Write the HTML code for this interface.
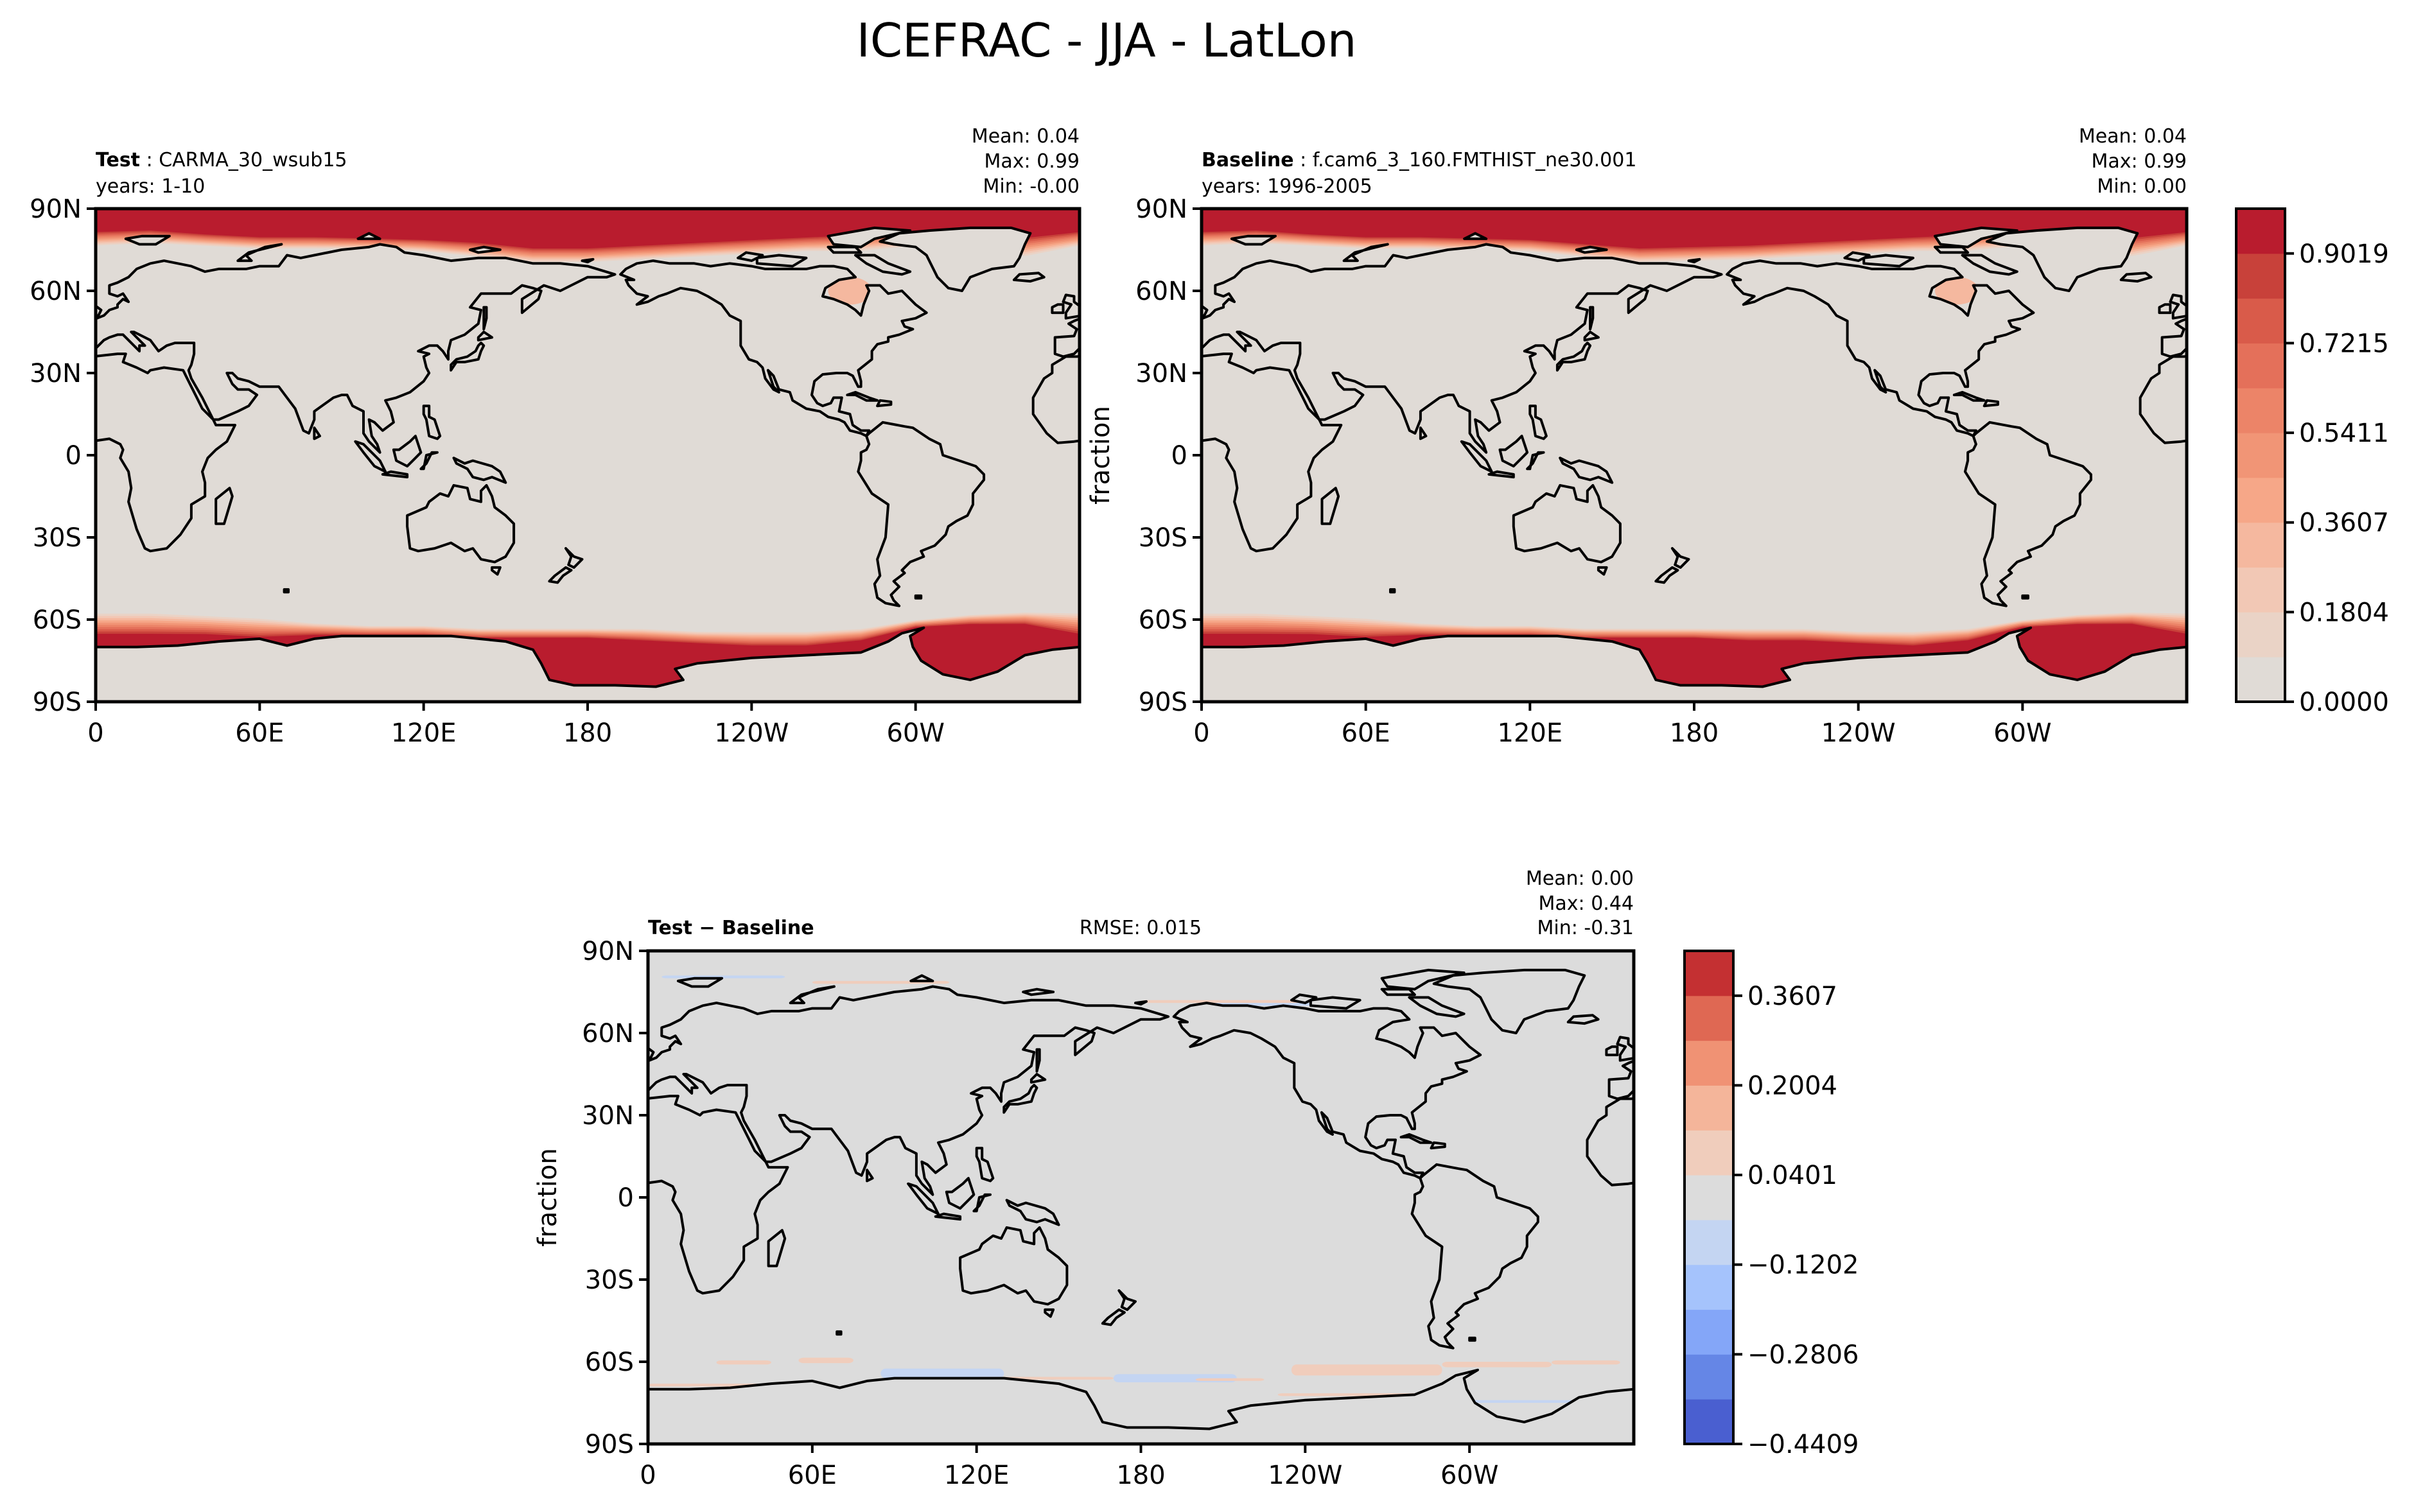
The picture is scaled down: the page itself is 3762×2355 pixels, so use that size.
<!DOCTYPE html>
<html><head><meta charset="utf-8">
<style>
html,body{margin:0;padding:0;background:#fff;}
svg{display:block;}
text{font-family:"DejaVu Sans","Liberation Sans",sans-serif;fill:#000;}
</style></head>
<body>
<svg id="fig" xmlns="http://www.w3.org/2000/svg" width="3762" height="2355" viewBox="0 0 3762 2355">
<rect x="0" y="0" width="3762" height="2355" fill="#fff"/>
<text x="1723" y="88" font-size="72" text-anchor="middle">ICEFRAC - JJA - LatLon</text>
</svg>
<script>
// ---------------- data ----------------
const iceLons = [0,20,40,60,80,100,120,140,160,180,200,220,240,260,280,300,320,340,360];
const testNorthFull = [82,82.5,81,80,80,79.5,79,78,76,76,77,78,79,80,81,82,83,80,82];
const testNorthEdge = [76,77,76,75,75,75,74,72,70,70,71,72,73,74,74,76,78,72,76];
const baseNorthFull = [82,82.5,81,80,80,79.5,79,77.5,76,76.5,77,78,79,80,81,82,83,80,82];
const baseNorthEdge = [76,77,76,75,75,74.5,74,72,70,70.5,71,72,73,74,74,76,78,72,76];
const testSouthFull = [-66,-66,-66,-67,-66,-66,-66,-67,-67,-67,-68,-69,-70,-70,-68,-63,-62,-62,-66];
const testSouthEdge = [-57,-57,-58,-59,-61,-62,-62,-63,-63,-63,-63,-64,-64,-64,-63,-60,-58,-57,-57];
const baseSouthFull = [-66,-66,-66,-67,-66,-66,-66,-67,-67,-67,-68,-68,-69,-70,-68,-63,-62,-62,-66];
const baseSouthEdge = [-57,-57,-58,-59,-61,-62,-62,-63,-63,-63,-63,-63,-64,-64,-63,-60,-58,-57,-57];
const hudsonTest = 0.35;
const hudsonBase = 0.30;
const iceColors = ['#e0dbd6','#ead3c6','#f2c8b5','#f5b89f','#f6a788','#f19576','#ec8468','#e4705a','#d95b4a','#c8413a','#b91c2e'];
const iceTicks = ['0.0000','0.1804','0.3607','0.5411','0.7215','0.9019'];
const iceTickVals = [0,0.1804,0.3607,0.5411,0.7215,0.9019];
const iceMax = 0.992;
const diffColors = ['#4a5fd0','#6586e6','#84a6f8','#a5c3fc','#c4d5f2','#dcdcdc','#f0cdbc','#f4b59a','#f09274','#df6853','#c43032'];
const diffTicks = ['\u22120.4409','\u22120.2806','\u22120.1202','0.0401','0.2004','0.3607'];
const diffTickVals = [-0.4409,-0.2806,-0.1202,0.0401,0.2004,0.3607];
const diffMin = -0.4409, diffMax = 0.4409;
// difference patches: lon range, lat range, value
const diffLon0 = [25,55,85,170,200,235,290,330,0,120,230,300,5,60,180,200];
const diffLon1 = [45,75,130,215,225,290,330,355,60,170,300,355,50,110,240,250];
const diffLat0 = [-59.5,-58.5,-62.5,-64.5,-66,-61,-60,-59.5,-68,-65.5,-71.5,-74,81,79,72,71];
const diffLat1 = [-61,-60.5,-66,-67.5,-67,-65,-62,-61,-69,-66.5,-72.5,-75,80,78,71,70];
const diffVal = [0.08,0.1,-0.08,-0.09,0.08,0.09,0.1,0.09,0.1,0.1,0.09,-0.09,-0.08,0.08,0.09,-0.08];
const latTicks = [90,60,30,0,-30,-60,-90];
const latLabels = ['90N','60N','30N','0','30S','60S','90S'];
const lonTicks = [0,60,120,180,240,300];
const lonLabels = ['0','60E','120E','180','120W','60W'];

// ---------------- coastlines (lon,lat) ----------------
const LAND = [
 [[-17,21],[-17,15],[-12,8],[-8,4.5],[-2,5],[5,6],[9,4],[10,2],[9,-1],[12,-6],[13,-12],[12,-17],[15,-27],[18,-34],[20,-35],[26,-34],[31,-29],[33,-26],[35,-23],[35,-18],[40,-15],[40,-10],[39,-6],[41,-1],[44,2],[48,5],[51,11],[44,11],[43,13],[39,17],[37,21],[35,25],[33,29],[32,31],[25,32],[20,31],[19,30],[15,32],[10,34],[11,37],[8,37],[-1,36],[-5,36],[-10,33],[-10,30],[-13,28]],
 [[44,-25],[47,-25],[50,-15],[49,-12],[44,-16]],
 [[-9,43],[-9,37],[-6,36],[-2,37],[0,39],[3,42],[5,43],[8,44],[10,44],[12,42],[16,38],[16,40],[18,40],[13,45],[14,45],[20,42],[23,38],[26,40],[29,41],[36,41],[36,37],[35,33],[34,31],[35,28],[39,21],[43,13],[45,13],[52,16],[56,18],[59,22],[56,24],[52,24],[50,26],[48,30],[50,30],[52,28],[56,27],[60,25],[67,25],[70,21],[73,17],[76,9],[78,8],[80,13],[80,16],[87,21],[90,22],[92,22],[94,18],[98,16],[98,8],[100,5],[104,1],[103,4],[101,7],[100,13],[102,12],[105,9],[109,12],[108,16],[106,20],[110,21],[115,23],[120,27],[122,30],[121,32],[120,36],[122,37],[118,38],[122,40],[125,40],[127,38],[129,35],[129,38],[130,42],[135,44],[140,48],[141,53],[137,54],[141,59],[152,59],[156,62],[160,61],[163,60],[162,57],[156,52],[156,57],[164,62],[170,60],[180,65],[187,65],[190,66],[180,69],[170,70],[160,70],[150,72],[140,72],[130,71],[120,73],[113,74],[110,76],[104,77],[100,76],[90,75],[80,73],[75,72],[70,73],[67,69],[60,69],[55,68],[45,68],[40,67],[35,69],[30,70],[25,71],[20,70],[15,68],[12,65],[8,63],[5,62],[5,59],[8,58],[10,59],[12,56],[10,57],[8,55],[8,54],[5,53],[3,51],[-2,49],[-4,48],[-1,46],[-2,43.5]],
 [[-5,50],[1,51],[2,53],[-2,56],[-2,58],[-5,58.5],[-6,56],[-3,55],[-5,52]],
 [[-10,52],[-6,52],[-6,55],[-8,55],[-10,54]],
 [[130,31],[132,34],[135,34],[140,35],[141,38],[142,40],[141,41],[140,40],[139,38],[136,36],[132,35],[130,33]],
 [[140,42],[145,43],[142,45],[140,43]],
 [[142,46],[143,50],[143,54],[142,54],[142,48]],
 [[120,18],[122,18],[122,14],[124,13],[126,7],[125,6],[122,7],[121,13],[120,15]],
 [[109,2],[110,-2],[114,-4],[117,-1],[119,1],[117,7],[115,5],[111,2]],
 [[95,5],[98,4],[104,-2],[106,-6],[102,-4],[98,1]],
 [[105,-7],[114,-8],[114,-7],[108,-6]],
 [[119,-5],[121,-3],[123,1],[125,1],[121,0],[120,-5]],
 [[131,-1],[135,-3],[138,-2],[145,-4],[148,-6],[150,-10],[145,-8],[142,-9],[138,-8],[136,-5],[132,-3]],
 [[114,-22],[114,-26],[115,-34],[118,-35],[124,-34],[130,-32],[135,-35],[138,-34],[141,-38],[146,-39],[150,-37],[153,-32],[153,-25],[150,-22],[146,-19],[145,-15],[143,-11],[141,-13],[141,-17],[137,-16],[136,-12],[131,-11],[129,-15],[126,-14],[122,-17],[121,-19]],
 [[145,-41],[148,-41],[147,-43.5],[145,-42]],
 [[172,-34],[175,-37],[178,-38],[175,-41],[173,-40],[174,-37]],
 [[172,-41],[174,-42],[171,-44],[169,-46.5],[166,-46],[168,-44]],
 [[80,6],[82,7],[80,10]],
 [[-166,68],[-162,70],[-156,71],[-150,70],[-141,70],[-135,69],[-128,70],[-120,69],[-115,68],[-108,68],[-100,68],[-95,69],[-90,69],[-85,68],[-82,65],[-88,64],[-93,61],[-94,58],[-90,57],[-85,55],[-82,53],[-80,51],[-79,55],[-77,60],[-78,62],[-73,62],[-70,59],[-65,60],[-62,57],[-60,55],[-56,52],[-60,50],[-65,49],[-64,47],[-61,46],[-66,44],[-70,43],[-70,41.5],[-74,40.5],[-76,38],[-76,35],[-81,31],[-80,27],[-80,25],[-81,25],[-83,29],[-85,30],[-89,30],[-94,29.5],[-97,27],[-98,22],[-96,19],[-94,18],[-91,19],[-90,21],[-87,21],[-88,16],[-84,15],[-83,11],[-80,9],[-77,9],[-78,7],[-80,8],[-84,9],[-86,12],[-88,13],[-92,14],[-95,16],[-100,17],[-105,20],[-106,23],[-110,24],[-112,29],[-114,31],[-112,25],[-110,23],[-112,24],[-115,28],[-116,32],[-118,34],[-121,35],[-124,40],[-124,46],[-124,49],[-128,51],[-131,55],[-136,58],[-140,60],[-146,61],[-151,59],[-154,58],[-158,56],[-162,55],[-158,58],[-162,59],[-165,62],[-166,64],[-163,64],[-168,66]],
 [[-73,78],[-66,81],[-55,82],[-40,83],[-25,83],[-18,81],[-20,77],[-22,72],[-24,69],[-32,68],[-40,65],[-43,60],[-48,61],[-52,65],[-54,69],[-56,73],[-60,76],[-68,77]],
 [[-62,67],[-65,66],[-72,67],[-78,70],[-82,73],[-75,73],[-70,70]],
 [[-118,70],[-105,69],[-100,72],[-110,73],[-118,72]],
 [[-80,76],[-90,77],[-92,80],[-75,83],[-62,82],[-75,79]],
 [[-125,72],[-120,71],[-116,73],[-122,74]],
 [[-80,74],[-90,74],[-92,76],[-82,76]],
 [[-85,22],[-82,23],[-77,21],[-74,20],[-78,20],[-82,22]],
 [[-74,18],[-69,18.5],[-69,19.5],[-73,20]],
 [[-24,64],[-22,66],[-15,66.5],[-13,65],[-18,63.5]],
 [[11,79],[17,80],[27,80],[22,77],[16,77]],
 [[52,71],[56,74],[68,77],[62,76],[55,73],[57,71]],
 [[96,79],[104,79],[100,81]],
 [[137,75],[142,76],[148,75],[140,74]],
 [[178,71],[182,71.5],[180,70.5]],
 [[-77,8],[-72,12],[-64,10.5],[-61,10],[-55,6],[-51,4],[-50,0],[-44,-2],[-38,-4],[-35,-7],[-35,-9],[-39,-14],[-39,-18],[-41,-22],[-45,-24],[-48,-26],[-49,-29],[-53,-33],[-58,-35],[-57,-37],[-62,-39],[-65,-42],[-64,-43],[-68,-46],[-66,-48],[-69,-51],[-68,-53],[-66,-55],[-71,-54],[-74,-52],[-75,-47],[-73,-44],[-74,-38],[-71,-30],[-70,-18],[-76,-14],[-81,-6],[-80,-2],[-80,1],[-78,2],[-77,4],[-78,7]],
 [[-60,-51.3],[-58,-51.3],[-58,-52.2],[-60,-52.2]],
 [[69,-49],[70.5,-49],[70.5,-50],[69,-50]]
];
const ANT = [[0,-70],[15,-70],[30,-69.5],[45,-68],[60,-67],[70,-69.5],[80,-67],[90,-66],[110,-66],[130,-66],[150,-68],[160,-71],[163,-76],[166,-82],[175,-84],[190,-84],[205,-84.5],[215,-82],[212,-78],[220,-76],[240,-74],[260,-73],[280,-72],[290,-68],[295,-65],[303,-63],[298,-66],[299,-70],[302,-75],[310,-80],[320,-82],[330,-79],[340,-73],[350,-71],[360,-70],[360,-90],[0,-90]];

// ---------------- helpers ----------------
const NS='http://www.w3.org/2000/svg';
const svg=document.getElementById('fig');
function el(tag,attrs,parent){const e=document.createElementNS(NS,tag);for(const k in attrs)e.setAttribute(k,attrs[k]);(parent||svg).appendChild(e);return e;}
function mkProj(ax){return {x:lon=>ax.x+lon/360*ax.w, y:lat=>ax.y+(90-lat)/180*ax.h};}
function interp(arrA,arrB,t){return arrA.map((a,i)=>a+(arrB[i]-a)*t);}
function landPath(P,pts,off){return pts.map((p,i)=>{let lon=p[0];return (i?'L':'M')+P.x(lon+off).toFixed(1)+','+P.y(p[1]).toFixed(1);}).join('')+'Z';}

let clipId=0;
function drawMap(ax,bg,drawField,name){
  const P=mkProj(ax);
  const cid='clip'+(clipId++);
  const cp=el('clipPath',{id:cid});
  el('rect',{x:ax.x,y:ax.y,width:ax.w,height:ax.h},cp);
  const g=el('g',{'clip-path':'url(#'+cid+')'});
  
  
  const bgr=el('rect',{x:ax.x,y:ax.y,width:ax.w,height:ax.h,fill:bg},g);
  
  
  drawField(g,P);
  const lg=el('g',{fill:bg,stroke:'#000','stroke-width':4,'stroke-linejoin':'round'},g);
  
  
  LAND.forEach(poly=>{
    const mean=poly.reduce((s,p)=>s+p[0],0)/poly.length;
    const shift = mean < -30 ? 360 : 0;
    const pts=poly.map(p=>[p[0]+shift,p[1]]);
    [0,360].forEach(off=>{
      const p=el('path',{d:landPath(P,pts,off)},lg);
      
      
    });
  });
  const a=el('path',{d:landPath(P,ANT,0)},lg);
  
  
  // frame
  const fr=el('rect',{x:ax.x,y:ax.y,width:ax.w,height:ax.h,fill:'none',stroke:'#000','stroke-width':5});
  
  
  // ticks
  latTicks.forEach((lt,i)=>{
    const y=P.y(lt);
    const t=el('line',{x1:ax.x-14,x2:ax.x,y1:y,y2:y,stroke:'#000','stroke-width':4});
    
    
    const tx=el('text',{x:ax.x-22,y:y+14,'font-size':40,'text-anchor':'end'});
    tx.textContent=latLabels[i];
    
    
  });
  lonTicks.forEach((ln,i)=>{
    const x=P.x(ln);
    const t=el('line',{x1:x,x2:x,y1:ax.y+ax.h,y2:ax.y+ax.h+14,stroke:'#000','stroke-width':4});
    
    
    const tx=el('text',{x:x,y:ax.y+ax.h+62,'font-size':40,'text-anchor':'middle'});
    tx.textContent=lonLabels[i];
    
    
  });
  return P;
}

function iceField(nFull,nEdge,sFull,sEdge,hud){
  return function(g,P){
    for(let k=1;k<iceColors.length;k++){
      const t=Math.min(1,k*0.0902/iceMax);
      const nb=interp(nEdge,nFull,t);
      let d='M'+P.x(0)+','+P.y(90);
      iceLons.forEach((ln,i)=>{d+='L'+P.x(ln).toFixed(1)+','+P.y(nb[i]).toFixed(1);});
      d+='L'+P.x(360)+','+P.y(90)+'Z';
      const pn=el('path',{d:d,fill:iceColors[k]},g);
      
      
      const sb=interp(sEdge,sFull,t);
      let d2='M'+P.x(0)+','+P.y(-90);
      iceLons.forEach((ln,i)=>{d2+='L'+P.x(ln).toFixed(1)+','+P.y(sb[i]).toFixed(1);});
      d2+='L'+P.x(360)+','+P.y(-90)+'Z';
      const ps=el('path',{d:d2,fill:iceColors[k]},g);
      
      
    }
    const hk=Math.floor(hud/0.0902);
    const h=el('ellipse',{cx:P.x(360-84),cy:P.y(60),rx:ax_w(P,8),ry:ax_h(P,5),fill:iceColors[hk]},g);
    
    
  };
}
function ax_w(P,dl){return P.x(dl)-P.x(0);}
function ax_h(P,dl){return P.y(0)-P.y(dl);}

function diffField(g,P){
  diffVal.forEach((v,i)=>{
    const k=Math.max(0,Math.min(diffColors.length-1,Math.floor((v-diffMin)/((diffMax-diffMin)/11))));
    const x0=P.x(diffLon0[i]),x1=P.x(diffLon1[i]);
    const y0=P.y(diffLat0[i]),y1=P.y(diffLat1[i]);
    const r=el('rect',{x:Math.min(x0,x1),y:Math.min(y0,y1),width:Math.abs(x1-x0),height:Math.abs(y1-y0),rx:8,fill:diffColors[k]},g);
    
    
  });
}

function colorbar(cb,colors,vmin,vmax,ticks,labels,name){
  const n=colors.length, bh=cb.h/n;
  colors.forEach((c,i)=>{
    const r=el('rect',{x:cb.x,y:cb.y+cb.h-(i+1)*bh,width:cb.w,height:bh+0.5,fill:c});
    
    
  });
  const f=el('rect',{x:cb.x,y:cb.y,width:cb.w,height:cb.h,fill:'none',stroke:'#000','stroke-width':4});
  
  
  ticks.forEach((v,i)=>{
    const y=cb.y+cb.h-(v-vmin)/(vmax-vmin)*cb.h;
    const t=el('line',{x1:cb.x+cb.w,x2:cb.x+cb.w+14,y1:y,y2:y,stroke:'#000','stroke-width':4});
    
    
    const tx=el('text',{x:cb.x+cb.w+22,y:y+14,'font-size':40});
    tx.textContent=labels[i];
    
    
  });
}
function txt(x,y,s,size,anchor,name,bold){
  const t=el('text',{x:x,y:y,'font-size':size,'text-anchor':anchor||'start'});
  if(bold) t.setAttribute('font-weight','bold');
  t.textContent=s;
  
  
  return t;
}
function richTitle(x,y,bold,rest,name){
  const t=el('text',{x:x,y:y,'font-size':30});
  const b=el('tspan',{'font-weight':'bold'},t); b.textContent=bold;
  const r=el('tspan',{},t); r.textContent=rest;
  
  
}

// ---------------- panels ----------------
const axTest={x:149,y:325,w:1532,h:768};
const axBase={x:1871,y:325,w:1534,h:768};
const axDiff={x:1009,y:1481,w:1535,h:768};

drawMap(axTest,iceColors[0],iceField(testNorthFull,testNorthEdge,testSouthFull,testSouthEdge,hudsonTest),'test');
drawMap(axBase,iceColors[0],iceField(baseNorthFull,baseNorthEdge,baseSouthFull,baseSouthEdge,hudsonBase),'baseline');
drawMap(axDiff,'#dcdcdc',diffField,'difference');

colorbar({x:3482,y:325,w:76,h:768},iceColors,0,iceMax,iceTickVals,iceTicks,'ice-colorbar');
colorbar({x:2623,y:1481,w:76,h:768},diffColors,diffMin,diffMax,diffTickVals,diffTicks,'diff-colorbar');

// headers
richTitle(149,259,'Test',' : CARMA_30_wsub15','test-panel-title');
txt(149,300,'years: 1-10',30,'start','test-years');
txt(1681,222,'Mean:  0.04',30,'end','test-mean');
txt(1681,261,'Max:  0.99',30,'end','test-max');
txt(1681,300,'Min: -0.00',30,'end','test-min');

richTitle(1871,259,'Baseline',' : f.cam6_3_160.FMTHIST_ne30.001','baseline-panel-title');
txt(1871,300,'years: 1996-2005',30,'start','baseline-years');
txt(3405,222,'Mean:  0.04',30,'end','baseline-mean');
txt(3405,261,'Max:  0.99',30,'end','baseline-max');
txt(3405,300,'Min:  0.00',30,'end','baseline-min');

txt(1009,1455,'Test \u2212 Baseline',30,'start','difference-panel-title',true);
txt(1776,1455,'RMSE: 0.015',30,'middle','difference-rmse');
txt(2544,1378,'Mean:  0.00',30,'end','difference-mean');
txt(2544,1417,'Max:  0.44',30,'end','difference-max');
txt(2544,1455,'Min: -0.31',30,'end','difference-min');

const fl1=txt(0,0,'fraction',40,'middle','baseline-y-axis-title');
fl1.setAttribute('transform','translate(1727,709) rotate(-90)');
const fl2=txt(0,0,'fraction',40,'middle','difference-y-axis-title');
fl2.setAttribute('transform','translate(866,1865) rotate(-90)');
</script>
</body></html>
